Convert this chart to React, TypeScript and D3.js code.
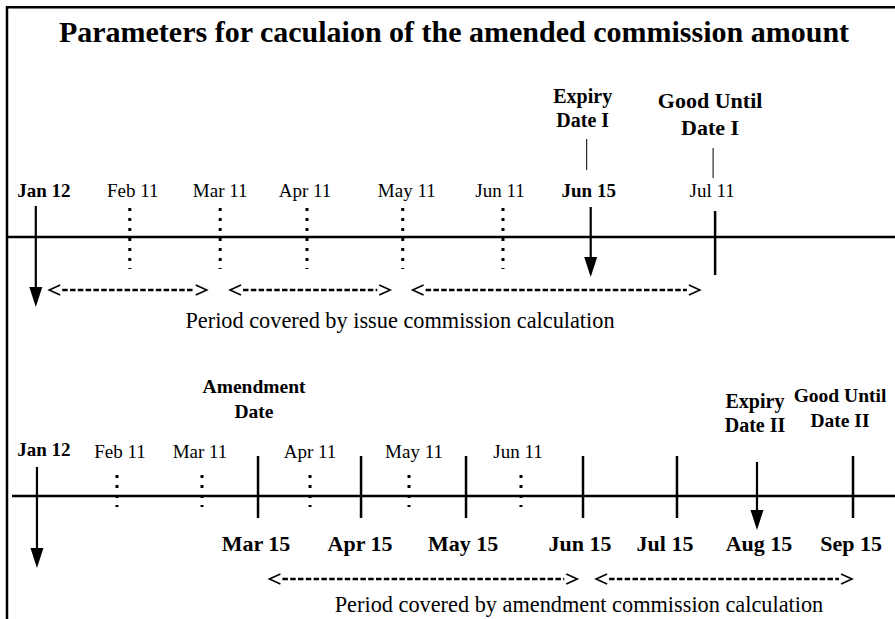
import React from "react";
import * as d3 from "d3";

// ---- data (schematic timeline positions, 0..100 across the frame) ----
const title = "Parameters for caculaion of the amended commission amount";

const topLabels = ["Jan 12", "Feb 11", "Mar 11", "Apr 11", "May 11", "Jun 11", "Jun 15", "Jul 11"];
const topPositions = [4.0, 14.5, 24.6, 34.3, 45.0, 56.2, 66.0, 79.9];
const topKinds = ["arrowLong", "dotted", "dotted", "dotted", "dotted", "dotted", "arrow", "tick"];
const topBold = [true, false, false, false, false, false, true, false];

const topNotes = ["Expiry|Date I", "Good Until|Date I"];
const topNoteAt = [6, 7]; // index into top events

const topPeriods: [number, number][] = [[5.5, 23.1], [25.7, 43.6], [46.1, 78.2]];
const topCaption = "Period covered by issue commission calculation";

const bottomUpperLabels = ["Jan 12", "Feb 11", "Mar 11", "Apr 11", "May 11", "Jun 11"];
const bottomUpperPositions = [4.13, 13.07, 22.57, 34.64, 45.7, 58.21];
const bottomUpperKinds = ["arrowLong", "dotted", "dotted", "dotted", "dotted", "dotted"];
const bottomUpperBold = [true, false, false, false, false, false];

const bottomLowerLabels = ["Mar 15", "Apr 15", "May 15", "Jun 15", "Jul 15", "Aug 15", "Sep 15"];
const bottomLowerPositions = [28.83, 40.34, 52.07, 65.14, 75.64, 84.58, 95.31];
const bottomLowerKinds = ["tick", "tick", "tick", "tick", "tick", "arrow", "tick"];

const bottomNotes = ["Amendment|Date", "Expiry|Date II", "Good Until|Date II"];
const bottomNoteAt = [0, 5, 6]; // index into lower events

const bottomPeriods: [number, number][] = [[30.1, 64.5], [66.6, 95.2]];
const bottomCaption = "Period covered by amendment commission calculation";

// ---- layout ----
const W = 895;
const H = 619;
const FONT = "'Liberation Serif', 'Times New Roman', Times, serif";

const x = d3.scaleLinear().domain([0, 100]).range([0, W]);

type Ext = { [k: string]: [number, number] };
const topExt: Ext = { arrowLong: [-31, 70], arrow: [-30, 40], dotted: [-29, 32], tick: [-26, 38] };
const botExt: Ext = { arrowLong: [-29, 72], arrow: [-34, 34], dotted: [-21, 11], tick: [-40, 22] };

function Mark({ cx, y, kind, ext }: { cx: number; y: number; kind: string; ext: Ext }) {
  const [a, b] = ext[kind];
  if (kind === "dotted") {
    return (
      <line x1={cx} x2={cx} y1={y + a} y2={y + b} stroke="#000" strokeWidth={3} strokeDasharray="3 7" />
    );
  }
  if (kind === "tick") {
    return <line x1={cx} x2={cx} y1={y + a} y2={y + b} stroke="#000" strokeWidth={2.5} />;
  }
  const headLen = 20;
  const hw = 6.5;
  const tip = y + b;
  const p = d3.path();
  p.moveTo(cx - hw, tip - headLen);
  p.lineTo(cx + hw, tip - headLen);
  p.lineTo(cx, tip);
  p.closePath();
  return (
    <g>
      <line x1={cx} x2={cx} y1={y + a} y2={tip - headLen + 1} stroke="#000" strokeWidth={2.2} />
      <path d={p.toString()} fill="#000" />
    </g>
  );
}

function DashArrow({ x0, x1, y }: { x0: number; x1: number; y: number }) {
  const cw = 11;
  const ch = 5;
  return (
    <g stroke="#000" fill="none">
      <polyline points={`${x0 + cw},${y - ch} ${x0},${y} ${x0 + cw},${y + ch}`} strokeWidth={1.6} />
      <line x1={x0 + 13} x2={x1 - 13} y1={y} y2={y} strokeWidth={2.5} strokeDasharray="5.5 2.3" />
      <polyline points={`${x1 - cw},${y - ch} ${x1},${y} ${x1 - cw},${y + ch}`} strokeWidth={1.6} />
    </g>
  );
}

function Note({ text, cx, y1, y2, size }: { text: string; cx: number; y1: number; y2: number; size: number }) {
  const [l1, l2] = text.split("|");
  return (
    <g fontFamily={FONT} fontWeight="bold" fontSize={size} textAnchor="middle" fill="#000">
      <text x={cx} y={y1}>{l1}</text>
      <text x={cx} y={y2}>{l2}</text>
    </g>
  );
}

export default function App() {
  const topY = 237;
  const botY = 496;

  // label tweaks
  const topLabelDx = [8, 3, 0, -2, 4, -3, -2, -3];
  const botUpperDx = [7, 3, -2, 0, 5, -3];
  const botLowerDx = [-2, -1, -3, -3, -12, 2, -2];

  const topNoteLayout = [
    { dx: -8, y1: 103, y2: 127, size: 20, line: [-4, 139, 170] },
    { dx: -5, y1: 108, y2: 135, size: 22, line: [-2, 148, 178] },
  ];
  const botNoteLayout = [
    { dx: -4, y1: 393, y2: 418, size: 19.5 },
    { dx: -2, y1: 408, y2: 432, size: 20 },
    { dx: -13, y1: 402, y2: 427, size: 19.5 },
  ];

  return (
    <svg
      width={W}
      height={H}
      viewBox={`0 0 ${W} ${H}`}
      style={{ position: "absolute", left: 0, top: 0, background: "#fff" }}
    >
      <rect x={0} y={0} width={W} height={H} fill="#fff" />
      {/* frame */}
      <line x1={7} x2={W} y1={7.2} y2={7.2} stroke="#000" strokeWidth={2.5} />
      <line x1={7} x2={7} y1={6} y2={H} stroke="#000" strokeWidth={2.5} />

      <text x={454} y={42} textAnchor="middle" fontFamily={FONT} fontWeight="bold" fontSize={30}>
        {title}
      </text>

      {/* ---- top timeline ---- */}
      <line x1={7} x2={W} y1={topY} y2={topY} stroke="#000" strokeWidth={2.5} />
      {topLabels.map((lab, i) => {
        const cx = x(topPositions[i]);
        return (
          <g key={"t" + i}>
            <Mark cx={cx} y={topY} kind={topKinds[i]} ext={topExt} />
            <text
              x={cx + topLabelDx[i]}
              y={197}
              textAnchor="middle"
              fontFamily={FONT}
              fontWeight={topBold[i] ? "bold" : "normal"}
              fontSize={19}
            >
              {lab}
            </text>
          </g>
        );
      })}
      {topNotes.map((n, i) => {
        const cx = x(topPositions[topNoteAt[i]]);
        const L = topNoteLayout[i];
        return (
          <g key={"tn" + i}>
            <Note text={n} cx={cx + L.dx} y1={L.y1} y2={L.y2} size={L.size} />
            <line x1={cx + L.line[0]} x2={cx + L.line[0]} y1={L.line[1]} y2={L.line[2]} stroke="#000" strokeWidth={1} />
          </g>
        );
      })}
      {topPeriods.map((p, i) => (
        <DashArrow key={"tp" + i} x0={x(p[0])} x1={x(p[1])} y={290} />
      ))}
      <text x={400} y={328} textAnchor="middle" fontFamily={FONT} fontSize={22.3}>
        {topCaption}
      </text>

      {/* ---- bottom timeline ---- */}
      <line x1={12} x2={W} y1={botY} y2={botY} stroke="#000" strokeWidth={2.5} />
      {bottomUpperLabels.map((lab, i) => {
        const cx = x(bottomUpperPositions[i]);
        return (
          <g key={"bu" + i}>
            <Mark cx={cx} y={botY} kind={bottomUpperKinds[i]} ext={botExt} />
            <text
              x={cx + botUpperDx[i]}
              y={bottomUpperBold[i] ? 456 : 458}
              textAnchor="middle"
              fontFamily={FONT}
              fontWeight={bottomUpperBold[i] ? "bold" : "normal"}
              fontSize={19}
            >
              {lab}
            </text>
          </g>
        );
      })}
      {bottomLowerLabels.map((lab, i) => {
        const cx = x(bottomLowerPositions[i]);
        return (
          <g key={"bl" + i}>
            <Mark cx={cx} y={botY} kind={bottomLowerKinds[i]} ext={botExt} />
            <text
              x={cx + botLowerDx[i]}
              y={551}
              textAnchor="middle"
              fontFamily={FONT}
              fontWeight="bold"
              fontSize={22}
            >
              {lab}
            </text>
          </g>
        );
      })}
      {bottomNotes.map((n, i) => {
        const cx = x(bottomLowerPositions[bottomNoteAt[i]]);
        const L = botNoteLayout[i];
        return <Note key={"bn" + i} text={n} cx={cx + L.dx} y1={L.y1} y2={L.y2} size={L.size} />;
      })}
      {bottomPeriods.map((p, i) => (
        <DashArrow key={"bp" + i} x0={x(p[0])} x1={x(p[1])} y={579} />
      ))}
      <text x={579} y={612} textAnchor="middle" fontFamily={FONT} fontSize={22.3}>
        {bottomCaption}
      </text>
    </svg>
  );
}
